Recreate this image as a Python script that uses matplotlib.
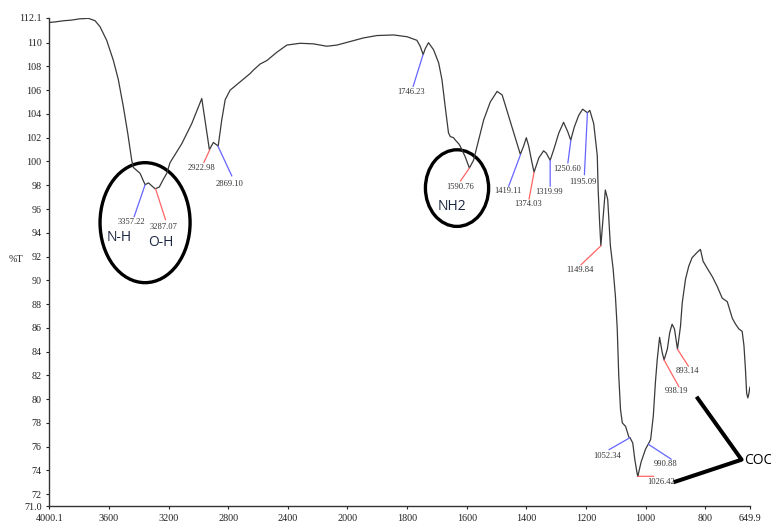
import numpy as np
import matplotlib
matplotlib.use("Agg")
import matplotlib.pyplot as plt
from matplotlib.patches import Ellipse

# --- spectrum (wavenumber in cm-1, transmittance in %T) ---
wavenumber = [4000.1, 3960, 3900, 3850, 3800, 3738, 3693, 3660, 3615, 3570, 3537, 3503,
              3474, 3447, 3436, 3391, 3357, 3335, 3317, 3290, 3262, 3235, 3212, 3190,
              3111, 3044, 2977, 2926, 2899, 2867, 2843, 2820, 2787, 2720, 2653, 2630,
              2586, 2540, 2473, 2406, 2317, 2228, 2138, 2070, 1991, 1946, 1901, 1845,
              1800, 1767, 1756, 1746, 1739, 1728, 1711, 1694, 1683, 1672, 1661, 1655,
              1644, 1638, 1627, 1622, 1605, 1591, 1577, 1565, 1543, 1521, 1498, 1481,
              1465, 1442, 1420, 1409, 1400, 1392, 1381, 1374, 1358, 1342, 1333, 1320,
              1308, 1291, 1275, 1261, 1251, 1239, 1224, 1211, 1195, 1187, 1174, 1162,
              1159, 1154, 1150, 1142, 1135, 1127, 1118, 1109, 1101, 1095, 1090, 1084,
              1078, 1067, 1056, 1052, 1043, 1036, 1028, 1026, 1015, 1000, 991, 983,
              974, 967, 961, 953, 944, 938, 927, 919, 911, 903, 893, 883, 877, 866,
              855, 844, 827, 816, 807, 793, 776, 760, 743, 726, 709, 698, 687, 676,
              670, 665, 661, 657, 654, 650]
transmittance = [111.7, 111.75, 111.85, 111.9, 112.0, 112.05, 111.85, 111.35, 110.2, 108.5, 106.9, 104.6,
                 102.4, 100.1, 99.5, 99.0, 98.04, 98.2, 98.0, 97.7, 97.85, 98.5, 99.0, 99.9,
                 101.5, 103.2, 105.3, 101.0, 101.6, 101.3, 103.5, 105.2, 106.0, 106.7, 107.4, 107.7,
                 108.2, 108.5, 109.2, 109.8, 109.95, 109.9, 109.7, 109.8, 110.1, 110.4, 110.6, 110.65,
                 110.5, 110.2, 109.7, 109.0, 109.5, 110.0, 109.4, 108.3, 106.9, 104.6, 102.4, 102.1,
                 102.0, 101.8, 101.5, 101.3, 100.4, 99.45, 100.1, 101.3, 103.5, 105.0, 105.9, 105.6,
                 104.3, 102.4, 100.6, 101.3, 102.0, 101.3, 99.9, 99.1, 100.3, 100.9, 100.7, 100.1,
                 101.0, 102.4, 103.3, 102.5, 101.8, 102.9, 103.9, 104.4, 104.1, 104.3, 103.2, 100.5,
                 97.6, 94.8, 92.9, 95.4, 97.6, 96.8, 92.9, 91.0, 88.6, 85.9, 82.0, 79.1,
                 78.0, 77.7, 76.8, 76.75, 76.3, 74.9, 73.7, 73.5, 74.7, 75.8, 76.2, 76.6,
                 78.6, 81.4, 83.3, 85.2, 83.9, 83.3, 84.2, 85.6, 86.3, 85.9, 84.2, 86.1, 88.1, 90.1,
                 91.2, 91.9, 92.35, 92.6, 91.6, 91.0, 90.3, 89.5, 88.5, 88.2, 86.8, 86.3, 85.9, 85.7,
                 84.5, 82.5, 80.5, 80.1, 80.4, 81.0]

# --- picked peaks ---
peak_labels = ["3357.22", "3287.07", "2922.98", "2869.10", "1746.23", "1590.76", "1419.11",
               "1374.03", "1319.99", "1250.60", "1195.09", "1149.84", "1052.34", "1026.42",
               "990.88", "938.19", "893.14"]
peak_wn = [3357.22, 3287.07, 2922.98, 2869.10, 1746.23, 1590.76, 1419.11, 1374.03, 1319.99,
           1250.60, 1195.09, 1149.84, 1052.34, 1026.42, 990.88, 938.19, 893.14]
peak_T = [98.04, 97.7, 101.0, 101.3, 109.0, 99.45, 100.6, 99.1, 100.1, 101.8, 104.1, 92.9,
          76.75, 73.5, 76.2, 83.3, 84.2]
peak_color = ["b", "r", "r", "b", "b", "r", "b", "r", "b", "b", "b", "r", "b", "r", "b", "r", "r"]

# leader-line end and label centre, offsets in pixels from the peak
line_off = [(-11, -32), (10, -31), (-6, -13), (14, -30), (-10, -32), (-9, -13), (-12, -32),
            (-5, -27), (0, -26), (-3, -23), (-3, -62), (-20, -19), (-21, -12), (16, 0),
            (23, -15), (15, -27), (11, -17)]
text_off = [(-14, -37), (8, -38), (-8, -18), (12, -38), (-12, -37), (-9, -19), (-13, -37),
            (-6, -32), (-1, -32), (-4, -29), (-4, -69), (-21, -24), (-23, -18), (23, -6),
            (17, -20), (13, -31), (10, -22)]

xticks = [4000.1, 3600, 3200, 2800, 2400, 2000, 1800, 1600, 1400, 1200, 1000, 800, 649.9]
xtick_labels = ["4000.1", "3600", "3200", "2800", "2400", "2000", "1800", "1600", "1400",
                "1200", "1000", "800", "649.9"]
yticks = [71.0] + list(range(72, 112, 2)) + [112.1]
ytick_labels = ["71.0"] + [str(v) for v in range(72, 112, 2)] + ["112.1"]

# hand-drawn highlights: (centre wn, centre %T, width cm-1, height %T)
circles = [(3357.5, 94.85, 604, 10.1), (1632.4, 97.76, 212, 6.45)]
group_labels = [("N-H", 3530, 93.6), ("O-H", 3250, 93.2), ("NH2", 1650, 96.2)]
coc_wn = [829, 678, 906]
coc_T = [80.2, 74.9, 73.0]

COLORS = {"b": "#6464ff", "r": "#ff6464"}


def fwd(w):
    w = np.asarray(w, dtype=float)
    return np.where(w >= 2000, w, 2 * w - 2000)


def inv(v):
    v = np.asarray(v, dtype=float)
    return np.where(v >= 2000, v, (v + 2000) / 2)


plt.rcParams["font.family"] = ["Liberation Serif", "DejaVu Serif"]

fig = plt.figure(figsize=(7.71, 5.26), dpi=100)
ax = fig.add_axes([0.0639, 0.038, 0.9088, 0.9283])
ax.set_xscale("function", functions=(fwd, inv))

ax.plot(wavenumber, transmittance, color="#3a3a3a", lw=0.9)

ax.set_xlim(4000.1, 649.9)
ax.set_ylim(71.0, 112.1)
ax.set_xticks(xticks)
ax.set_xticklabels(xtick_labels)
ax.set_yticks(yticks)
ax.set_yticklabels(ytick_labels)
ax.minorticks_off()
ax.tick_params(labelsize=7.3, length=2.5, width=0.8, pad=3, colors="#222222")

for s in ("top", "right"):
    ax.spines[s].set_visible(False)
for s in ("left", "bottom"):
    ax.spines[s].set_color("#333333")
    ax.spines[s].set_linewidth(1.0)

ax.set_ylabel("%T", rotation=0, fontsize=7.3, color="#222222", va="center", ha="center")
ax.yaxis.set_label_coords(-0.047, 0.504)

# peak picks
for lab, w, t, c, lo, to in zip(peak_labels, peak_wn, peak_T, peak_color, line_off, text_off):
    ax.annotate("", xy=(w, t), xytext=lo, textcoords="offset pixels",
                arrowprops=dict(arrowstyle="-", color=COLORS[c], lw=0.9, shrinkA=0, shrinkB=0))
    ax.annotate(lab, xy=(w, t), xytext=to, textcoords="offset pixels",
                ha="center", va="center", fontsize=6.1, color="#333333")

# highlights
for cw, ct, ww, hh in circles:
    ax.add_patch(Ellipse((cw, ct), ww, hh, fill=False, ec="black", lw=2.4, clip_on=False))
for txt, w, t in group_labels:
    ax.text(w, t, txt, fontsize=10, color="#1c2541", ha="center", va="center",
            family=["Open Sans", "DejaVu Sans"])
ax.plot(coc_wn, coc_T, color="black", lw=2.9, solid_capstyle="butt", clip_on=False)
ax.text(671, 74.85, "COC", fontsize=10, color="black", ha="left", va="center",
        family=["Open Sans", "DejaVu Sans"], clip_on=False)

fig.savefig("out.png", dpi=100)
